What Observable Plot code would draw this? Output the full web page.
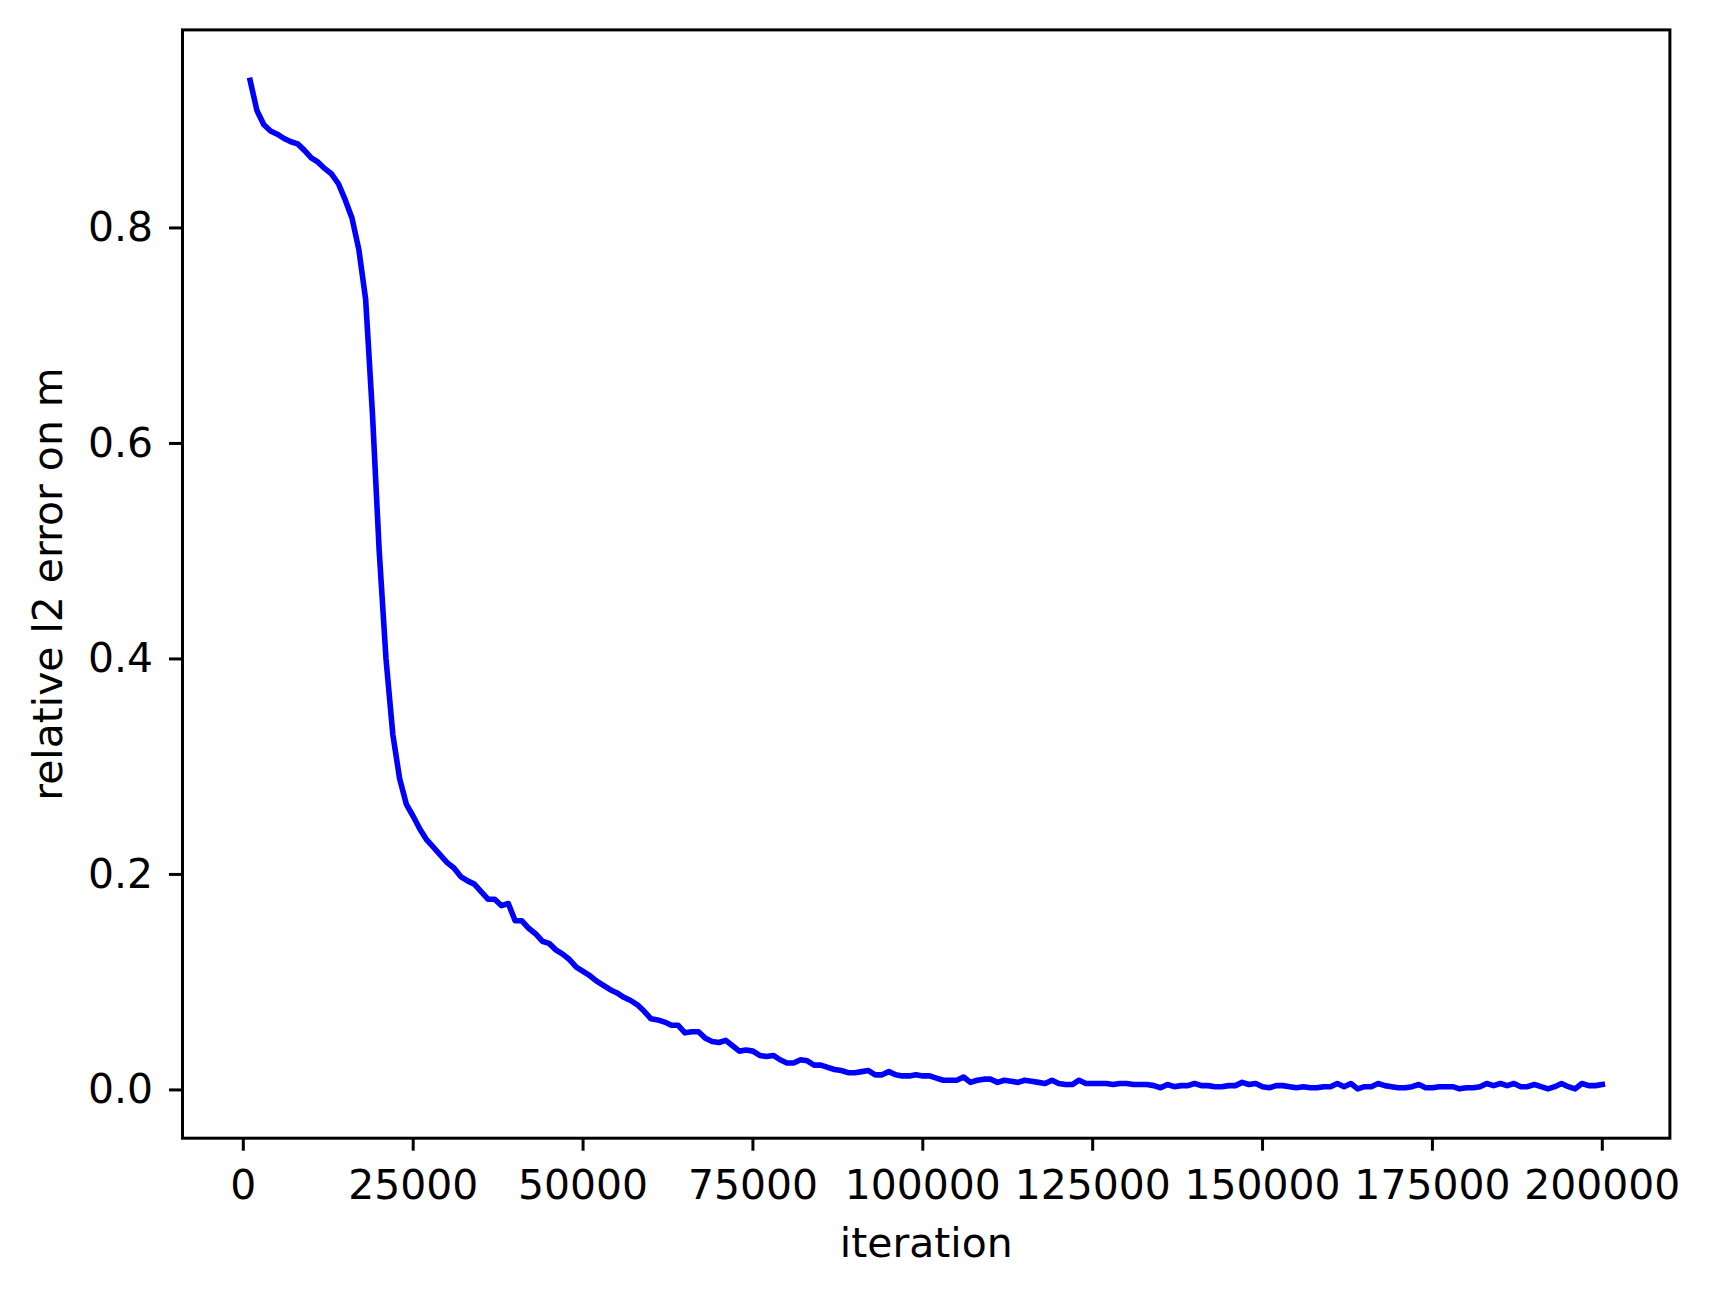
<!DOCTYPE html>
<html>
<head>
<meta charset="utf-8">
<script src="https://cdn.jsdelivr.net/npm/d3@7"></script>
<script src="https://cdn.jsdelivr.net/npm/@observablehq/plot@0.6"></script>
<style>
  html, body { margin: 0; padding: 0; background: #fff; }
  #chart svg { display: block; }
</style>
</head>
<body>
<div id="chart"></div>
<script>
// iteration values (every 1000)
const iterations = d3.range(1000, 200001, 1000);
// relative l2 error on m
const errorValues = [
  0.937, 0.909, 0.896, 0.890, 0.887, 0.883, 0.880, 0.878, 0.872, 0.865,
  0.861, 0.855, 0.850, 0.841, 0.826, 0.809, 0.780, 0.734, 0.628, 0.500,
  0.400, 0.330, 0.289, 0.265, 0.254, 0.242, 0.232, 0.225, 0.218, 0.211,
  0.206, 0.198, 0.194, 0.191, 0.184, 0.177, 0.177, 0.171, 0.173, 0.157,
  0.157, 0.150, 0.145, 0.138, 0.136, 0.130, 0.126, 0.121, 0.114, 0.110,
  0.106, 0.101, 0.097, 0.093, 0.090, 0.086, 0.083, 0.079, 0.073, 0.066,
  0.065, 0.063, 0.060, 0.060, 0.053, 0.054, 0.054, 0.048, 0.045, 0.044,
  0.046, 0.041, 0.036, 0.037, 0.036, 0.032, 0.031, 0.032, 0.028, 0.025,
  0.025, 0.028, 0.027, 0.023, 0.023, 0.021, 0.019, 0.018, 0.016, 0.016,
  0.017, 0.018, 0.014, 0.014, 0.017, 0.014, 0.013, 0.013, 0.014, 0.013,
  0.013, 0.011, 0.009, 0.009, 0.009, 0.012, 0.007, 0.009, 0.010, 0.010,
  0.007, 0.009, 0.008, 0.007, 0.009, 0.008, 0.007, 0.006, 0.009, 0.006,
  0.005, 0.005, 0.009, 0.006, 0.006, 0.006, 0.006, 0.005, 0.006, 0.006,
  0.005, 0.005, 0.005, 0.004, 0.002, 0.005, 0.003, 0.004, 0.004, 0.006,
  0.004, 0.004, 0.003, 0.003, 0.004, 0.004, 0.007, 0.005, 0.006, 0.003,
  0.002, 0.004, 0.004, 0.003, 0.002, 0.003, 0.002, 0.002, 0.003, 0.003,
  0.006, 0.003, 0.006, 0.001, 0.003, 0.003, 0.006, 0.004, 0.003, 0.002,
  0.002, 0.003, 0.005, 0.002, 0.002, 0.003, 0.003, 0.003, 0.001, 0.002,
  0.002, 0.003, 0.006, 0.004, 0.006, 0.004, 0.006, 0.003, 0.003, 0.005,
  0.003, 0.001, 0.003, 0.006, 0.003, 0.001, 0.006, 0.004, 0.004, 0.005
];
const xTicks = [0, 25000, 50000, 75000, 100000, 125000, 150000, 175000, 200000];
const yTicks = [0.0, 0.2, 0.4, 0.6, 0.8];
const xLabel = "iteration";
const yLabel = "relative l2 error on m";

const data = iterations.map((it, i) => ({iteration: it, error: errorValues[i]}));

const W = 1712, H = 1294;
const mL = 182, mR = 42.6, mT = 29.4, mB = 156.3;
const fs = 40.9;       // tick label size
const fsLabel = 40.9;  // axis label size

const chart = Plot.plot({
  width: W,
  height: H,
  marginLeft: mL,
  marginRight: mR,
  marginTop: mT,
  marginBottom: mB,
  style: {fontFamily: "'DejaVu Sans', sans-serif", background: "#fff", color: "#000"},
  x: {domain: [-8950, 209950], label: null},
  y: {domain: [-0.0448, 0.9838], label: null},
  marks: [
    Plot.line(data, {x: "iteration", y: "error", stroke: "#0000ff", strokeWidth: 5.6,
      strokeLinejoin: "round", strokeLinecap: "square"}),
    Plot.axisX({ticks: xTicks, tickFormat: d3.format("d"), tickSize: 13, tickPadding: 18.3,
      strokeWidth: 3, fontSize: fs, label: null, fill: "#000", stroke: "#000"}),
    Plot.axisY({ticks: yTicks, tickFormat: d3.format(".1f"), tickSize: 13, tickPadding: 16.5,
      strokeWidth: 3, fontSize: fs, label: null, fill: "#000", stroke: "#000"}),
    Plot.frame({stroke: "#000", strokeWidth: 3}),
    Plot.text([xLabel], {frameAnchor: "bottom", dy: 105.7, lineAnchor: "middle", textAnchor: "middle",
      fontSize: fsLabel, fill: "#000", text: d => d}),
    Plot.text([yLabel], {frameAnchor: "left", dx: -133.4, lineAnchor: "middle", textAnchor: "middle",
      rotate: -90, fontSize: fsLabel, fill: "#000", text: d => d})
  ]
});
document.getElementById("chart").appendChild(chart);
</script>
</body>
</html>
